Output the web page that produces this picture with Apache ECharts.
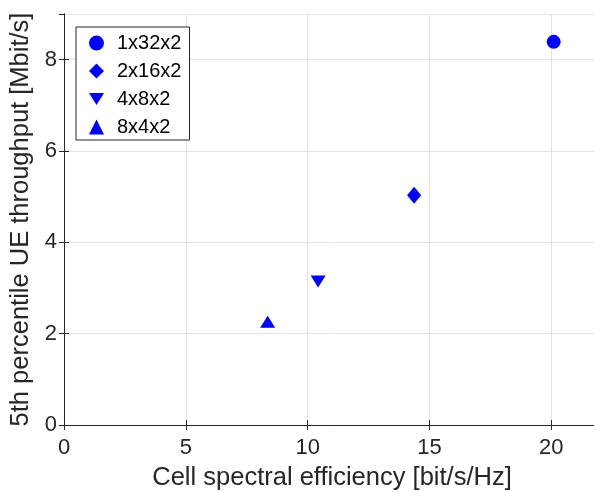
<!DOCTYPE html>
<html>
<head>
<meta charset="utf-8">
<script src="https://cdn.jsdelivr.net/npm/echarts@6/dist/echarts.min.js"></script>
<style>
  html, body { margin: 0; padding: 0; background: #fff; }
  #chart { width: 594px; height: 492px; }
</style>
</head>
<body>
<div id="chart"></div>
<script>
// Antenna configurations and their measured performance
const configs = ['1x32x2', '2x16x2', '4x8x2', '8x4x2'];
const spectralEfficiency = [20.1, 14.37, 10.43, 8.36];   // bit/s/Hz
const throughput5th = [8.39, 5.03, 3.14, 2.26];          // Mbit/s
const markerShapes = ['circle', 'diamond', 'path://M0,0 L10,0 L5,8 Z', 'triangle'];
const markerSizes = [[14, 14], [14, 17], [15, 12], [15, 12]];

const xTicks = { min: 0, max: 22, step: 5 };
const yTicks = { min: 0, max: 9, step: 2 };

const ink = '#262626';
const gridGray = '#e3e3e3';
const fontFamily = 'Liberation Sans, Arial, Helvetica, sans-serif';

const chart = echarts.init(document.getElementById('chart'));

const baseAxis = {
  axisLine: { show: true, lineStyle: { color: ink, width: 1 } },
  axisTick: { show: true, inside: true, length: 5, lineStyle: { color: ink } },
  splitLine: { show: false },
  axisLabel: { show: false }
};

chart.setOption({
  animation: false,
  backgroundColor: '#fff',
  grid: { left: 64, top: 14, width: 536, height: 411, show: false, containLabel: false, outerBoundsMode: 'none' },
  legend: {
    orient: 'vertical',
    left: 76,
    top: 27,
    padding: [6, 8, 3, 13],
    itemWidth: 15,
    itemHeight: 15,
    itemGap: 8,
    backgroundColor: '#fff',
    borderColor: ink,
    borderWidth: 1,
    borderRadius: 0,
    textStyle: { fontFamily: fontFamily, fontSize: 20, color: '#000', lineHeight: 20, padding: [0, 0, 0, 8] },
    data: configs.map((name, i) => ({ name: name, icon: markerShapes[i] }))
  },
  xAxis: [
    {
      type: 'value',
      min: xTicks.min, max: xTicks.max, interval: xTicks.step,
      position: 'bottom',
      name: 'Cell spectral efficiency [bit/s/Hz]',
      nameLocation: 'middle',
      nameGap: 40,
      nameTextStyle: { fontFamily: fontFamily, fontSize: 25.5, color: ink },
      axisLine: { show: true, onZero: false, lineStyle: { color: ink, width: 1 } },
      axisTick: { show: true, inside: true, length: 5, lineStyle: { color: ink } },
      splitLine: { show: true, lineStyle: { color: gridGray, width: 1 } },
      axisLabel: { show: true, margin: 12, fontFamily: fontFamily, fontSize: 22, color: ink, showMaxLabel: false }
    },
    Object.assign({ type: 'value', min: xTicks.min, max: xTicks.max, interval: xTicks.step, position: 'top' }, baseAxis)
  ],
  yAxis: [
    {
      type: 'value',
      min: yTicks.min, max: yTicks.max, interval: yTicks.step,
      position: 'left',
      name: '5th percentile UE throughput [Mbit/s]',
      nameLocation: 'middle',
      nameGap: 20,
      nameTextStyle: { fontFamily: fontFamily, fontSize: 25.5, color: ink },
      axisLine: { show: true, onZero: false, lineStyle: { color: ink, width: 1 } },
      axisTick: { show: true, inside: true, length: 5, lineStyle: { color: ink } },
      splitLine: { show: true, lineStyle: { color: gridGray, width: 1 } },
      axisLabel: { show: true, margin: 7, fontFamily: fontFamily, fontSize: 22, color: ink, showMaxLabel: false }
    },
    Object.assign({ type: 'value', min: yTicks.min, max: yTicks.max, interval: yTicks.step, position: 'right' }, baseAxis)
  ],
  series: configs.map((name, i) => ({
    name: name,
    type: 'scatter',
    xAxisIndex: 0,
    yAxisIndex: 0,
    symbol: markerShapes[i],
    symbolSize: markerSizes[i],
    itemStyle: { color: '#0000ff', opacity: 1 },
    data: [[spectralEfficiency[i], throughput5th[i]]],
    z: 5
  }))
});
</script>
</body>
</html>
